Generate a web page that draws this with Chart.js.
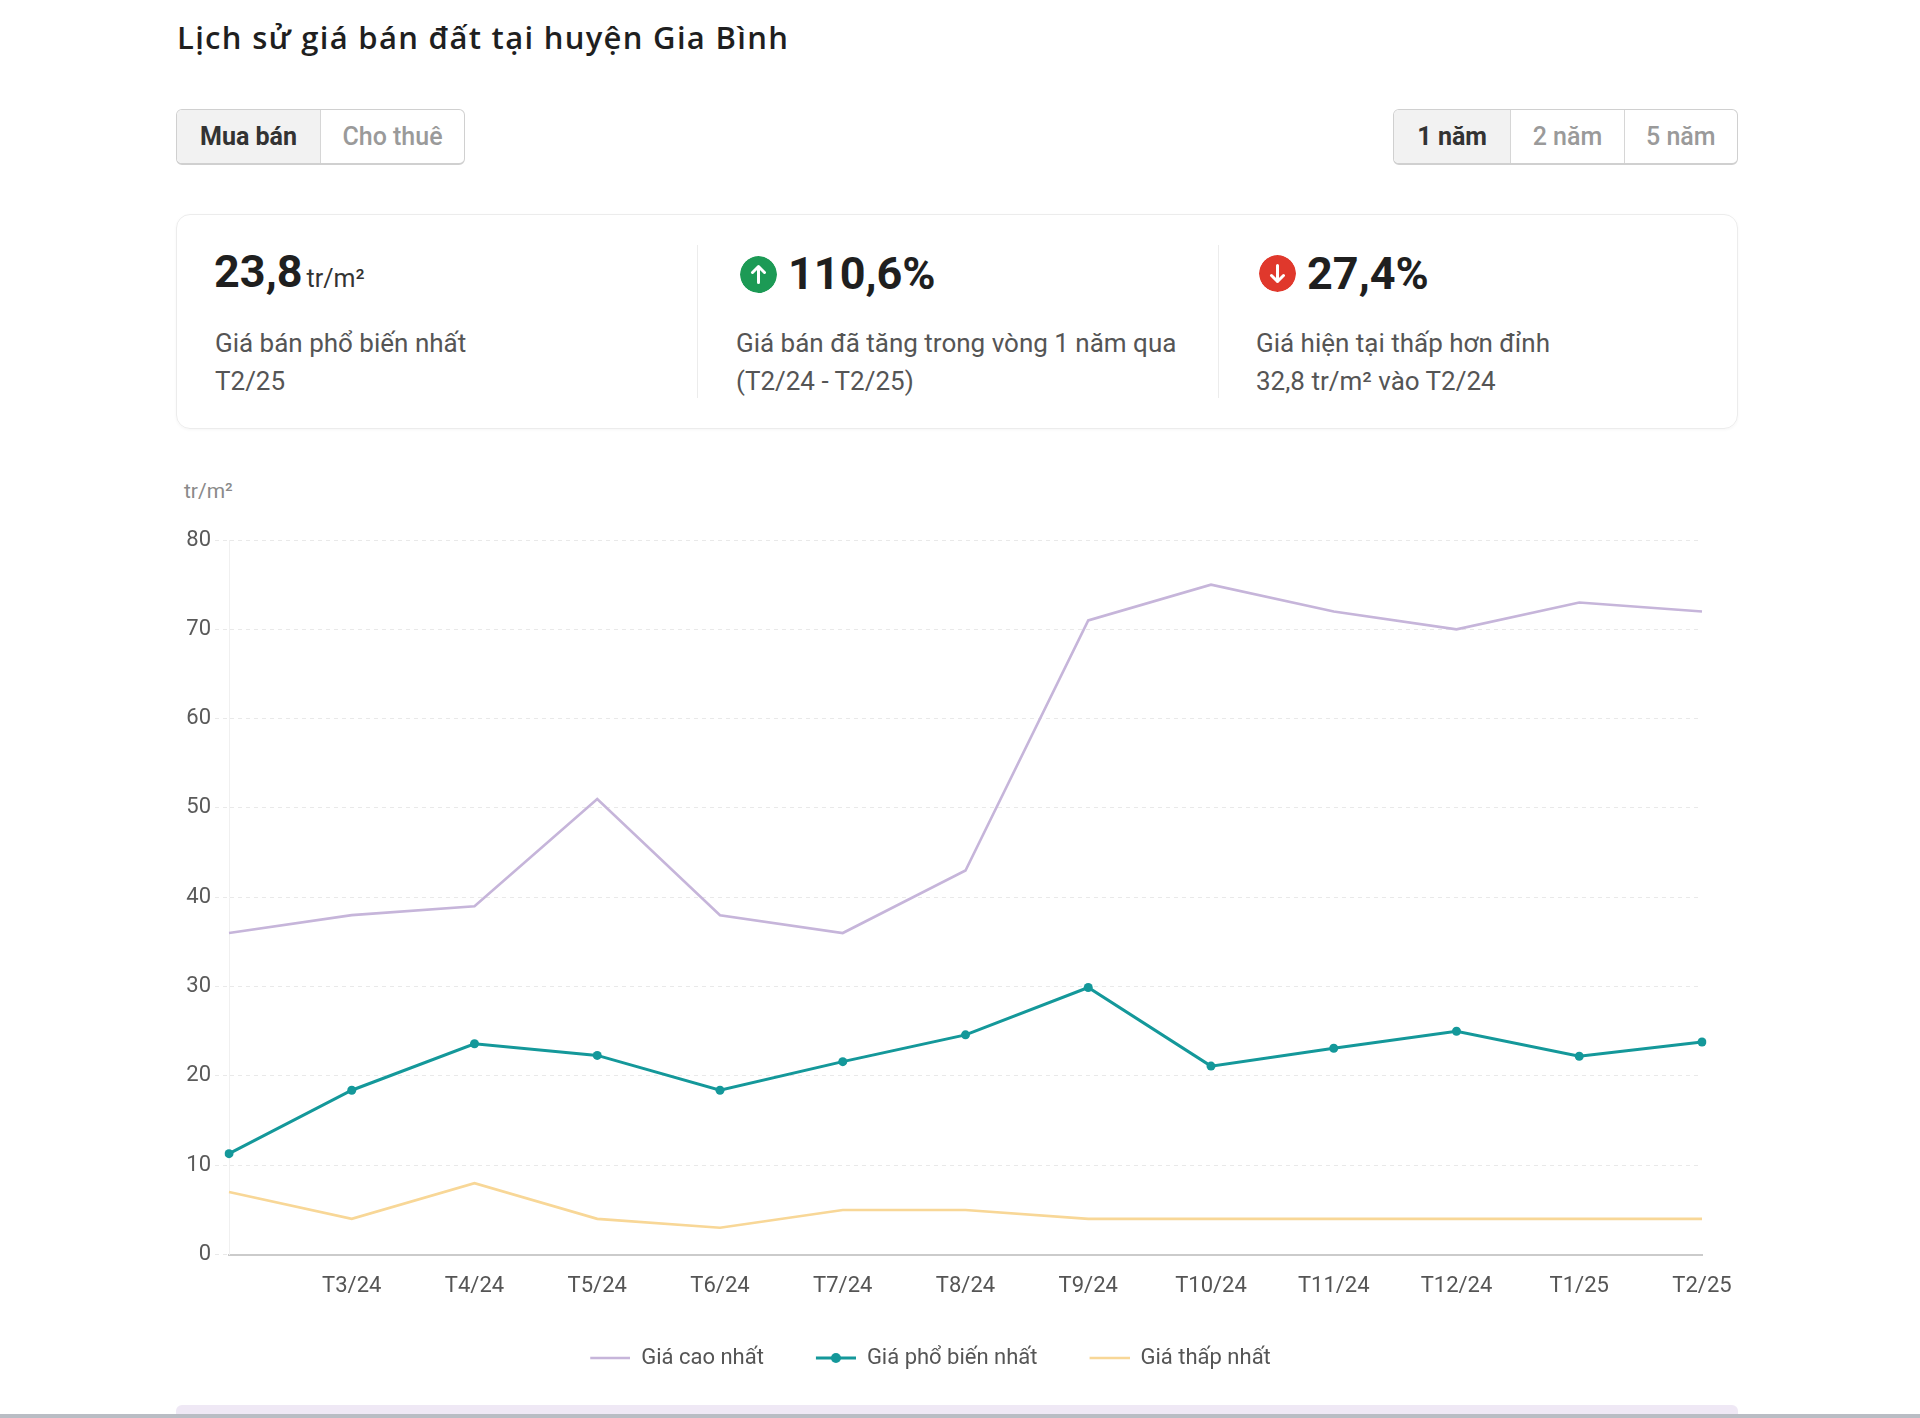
<!DOCTYPE html>
<html lang="vi">
<head>
<meta charset="utf-8">
<title>Lịch sử giá bán đất tại huyện Gia Bình</title>
<script src="https://cdn.jsdelivr.net/npm/chart.js@4.4.1/dist/chart.umd.min.js"></script>
<style>
  html, body { margin: 0; padding: 0; background: #fff; }
  body { width: 1920px; height: 1418px; position: relative; overflow: hidden; font-family: Roboto, "Noto Sans", sans-serif; color: #222; }
  .abs { position: absolute; white-space: nowrap; }
  .title { left: 177px; top: 18px; font-family: "Open Sans", Roboto, sans-serif; font-size: 31px; line-height: 38px; font-weight: 600; color: #1f1f1f; letter-spacing: 1.3px; }
  .seg { position: absolute; top: 109px; height: 56px; border: 1.5px solid #d0d0d0; border-bottom-width: 2.5px; border-radius: 6px; box-sizing: border-box; display: flex; overflow: hidden; }
  .seg div { height: 100%; display: flex; align-items: center; justify-content: center; font-size: 25px; font-weight: 500; color: #9a9a9a; box-sizing: border-box; }
  .seg div + div { border-left: 1.5px solid #d6d6d6; }
  .seg div.on { background: #f2f2f2; color: #333; font-weight: 700; }
  .card { position: absolute; left: 176px; top: 214px; width: 1562px; height: 215px; border: 1px solid #ececec; border-radius: 14px; box-sizing: border-box; box-shadow: 0 1px 3px rgba(0,0,0,0.04); }
  .vdiv { position: absolute; top: 245px; width: 1px; height: 153px; background: #ececec; }
  .big { font-size: 45px; font-weight: 700; color: #1f1f1f; line-height: 54px; }
  .unit { font-size: 25px; font-weight: 400; color: #333; margin-left: 4px; }
  .txt { font-size: 26px; line-height: 30px; color: #555; }
  .icon { position: absolute; width: 37px; height: 37px; border-radius: 50%; }
  .ylab { left: 184px; top: 478px; font-size: 21px; line-height: 26px; color: #8a8a8a; }
  #wrap { position: absolute; left: 135px; top: 500px; width: 1625px; height: 900px; }
  .band { position: absolute; left: 176px; top: 1405px; width: 1562px; height: 9px; background: #efe8f5; border-radius: 6px 6px 0 0; }
  .bline { position: absolute; left: 0; top: 1414px; width: 1920px; height: 4px; background: #b9bdc4; }
</style>
</head>
<body>
<div class="abs title">Lịch sử giá bán đất tại huyện Gia Bình</div>

<div class="seg" style="left:176px;width:289px;">
  <div class="on" style="width:144px;">Mua bán</div>
  <div style="width:145px;">Cho thuê</div>
</div>
<div class="seg" style="left:1393px;width:345px;">
  <div class="on" style="width:117px;">1 năm</div>
  <div style="width:114px;">2 năm</div>
  <div style="width:114px;">5 năm</div>
</div>

<div class="card"></div>
<div class="vdiv" style="left:697px;"></div>
<div class="vdiv" style="left:1218px;"></div>

<div class="abs big" style="left:214px;top:245px;">23,8<span class="unit">tr/m²</span></div>
<div class="abs txt" style="left:215px;top:328px;">Giá bán phổ biến nhất</div>
<div class="abs txt" style="left:215px;top:366px;">T2/25</div>

<svg class="icon" style="left:740px;top:256px;" viewBox="0 0 37 37"><circle cx="18.5" cy="18.5" r="18.5" fill="#1c9a55"/><path d="M18.5 10.5 L18.5 26.5 M12.5 16.5 L18.5 10.5 L24.5 16.5" stroke="#fff" stroke-width="3" fill="none" stroke-linecap="round" stroke-linejoin="round"/></svg>
<div class="abs big" style="left:788px;top:247px;">110,6%</div>
<div class="abs txt" style="left:736px;top:328px;">Giá bán đã tăng trong vòng 1 năm qua</div>
<div class="abs txt" style="left:736px;top:366px;">(T2/24 - T2/25)</div>

<svg class="icon" style="left:1259px;top:255px;" viewBox="0 0 37 37"><circle cx="18.5" cy="18.5" r="18.5" fill="#e0382c"/><path d="M18.5 10.5 L18.5 26.5 M12.5 20.5 L18.5 26.5 L24.5 20.5" stroke="#fff" stroke-width="3" fill="none" stroke-linecap="round" stroke-linejoin="round"/></svg>
<div class="abs big" style="left:1307px;top:247px;">27,4%</div>
<div class="abs txt" style="left:1256px;top:328px;">Giá hiện tại thấp hơn đỉnh</div>
<div class="abs txt" style="left:1256px;top:366px;">32,8 tr/m² vào T2/24</div>

<div class="abs ylab">tr/m²</div>
<div id="wrap"><canvas id="c"></canvas></div>

<div class="band"></div>
<div class="bline"></div>

<script>
// ---- data ----
const months = ['T2/24','T3/24','T4/24','T5/24','T6/24','T7/24','T8/24','T9/24','T10/24','T11/24','T12/24','T1/25','T2/25'];
const giaCaoNhat     = [36, 38, 39, 51, 38, 36, 43, 71, 75, 72, 70, 73, 72];
const giaPhoBienNhat = [11.3, 18.4, 23.6, 22.3, 18.4, 21.6, 24.6, 29.9, 21.1, 23.1, 25.0, 22.2, 23.8];
const giaThapNhat    = [7, 4, 8, 4, 3, 5, 5, 4, 4, 4, 4, 4, 4];
const seriesNames = ['Giá cao nhất', 'Giá phổ biến nhất', 'Giá thấp nhất'];
const yTicks = [0, 10, 20, 30, 40, 50, 60, 70, 80];

const colors = { cao: '#c6b5da', pho: '#14989a', thap: '#f8d797' };

// legend icon: blank lead-in (extra item spacing) + 40px line sample
const LEAD = 24, SAMPLE = 40;
function legendIcon(color, dot) {
  const cv = document.createElement('canvas');
  cv.width = LEAD + SAMPLE; cv.height = 12;
  const g = cv.getContext('2d');
  g.strokeStyle = color; g.lineWidth = dot ? 3 : 2.5;
  g.beginPath(); g.moveTo(LEAD, 6); g.lineTo(LEAD + SAMPLE, 6); g.stroke();
  if (dot) { g.fillStyle = color; g.beginPath(); g.arc(LEAD + SAMPLE / 2, 6, 5, 0, Math.PI * 2); g.fill(); }
  return cv;
}
const icons = [legendIcon(colors.cao, false), legendIcon(colors.pho, true), legendIcon(colors.thap, false)];

Chart.defaults.font.family = 'Roboto, "Noto Sans", sans-serif';

new Chart(document.getElementById('c'), {
  type: 'line',
  data: {
    labels: months,
    datasets: [
      { label: seriesNames[0], data: giaCaoNhat, borderColor: colors.cao, backgroundColor: colors.cao, borderWidth: 2.6, pointRadius: 0, tension: 0 },
      { label: seriesNames[1], data: giaPhoBienNhat, borderColor: colors.pho, backgroundColor: colors.pho, borderWidth: 3, pointRadius: 4.5, pointBorderWidth: 0, pointBackgroundColor: colors.pho, tension: 0 },
      { label: seriesNames[2], data: giaThapNhat, borderColor: colors.thap, backgroundColor: colors.thap, borderWidth: 2.6, pointRadius: 0, tension: 0 }
    ]
  },
  options: {
    responsive: true,
    maintainAspectRatio: false,
    animation: false,
    layout: { padding: { top: 40, right: 58, bottom: 21, left: 0 } },
    scales: {
      x: {
        grid: { display: false, drawTicks: false },
        border: { display: true, color: '#cbcbcb', width: 2 },
        ticks: {
          color: '#555', font: { size: 22 }, padding: 19, autoSkip: false, maxRotation: 0,
          callback: function (v, i) { return i === 0 ? '' : months[i]; }
        }
      },
      y: {
        min: 0, max: 80,
        afterFit: function (s) { s.width = 94; },
        afterBuildTicks: function (s) { s.ticks = yTicks.map(v => ({ value: v })); },
        grid: { color: '#e9e9e9', lineWidth: 1, tickLength: 14, tickBorderDash: [4, 4] },
        border: { display: true, color: '#f0f0f0', width: 1, dash: [4, 4] },
        ticks: { color: '#5a5a5a', font: { size: 22 }, padding: 4 }
      }
    },
    plugins: {
      tooltip: { enabled: false },
      legend: {
        position: 'bottom',
        labels: {
          usePointStyle: true, pointStyleWidth: LEAD + SAMPLE, padding: 28,
          color: '#555', font: { size: 22 },
          generateLabels: function (chart) {
            return chart.data.datasets.map((ds, i) => ({
              text: ds.label, pointStyle: icons[i], fillStyle: ds.borderColor,
              strokeStyle: ds.borderColor, lineWidth: 0, hidden: false, datasetIndex: i, fontColor: '#555'
            }));
          }
        }
      }
    }
  }
});
</script>
</body>
</html>
